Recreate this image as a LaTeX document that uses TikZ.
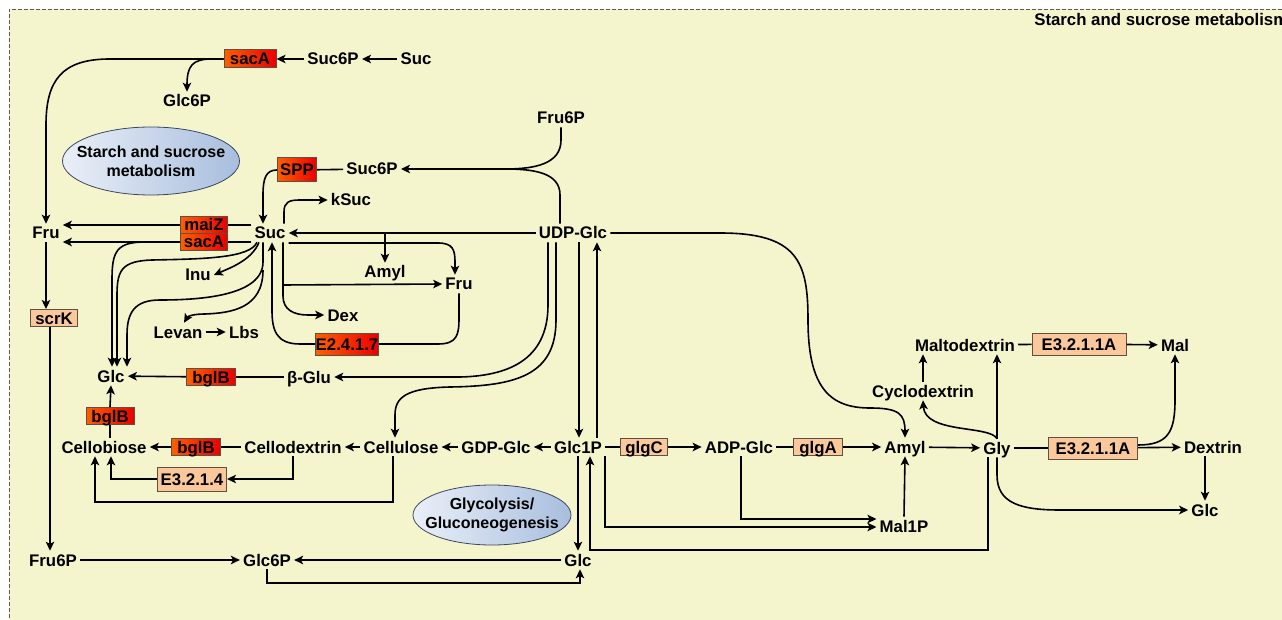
\documentclass[tikz,border=0pt]{standalone}
\usepackage{fontspec}
\setmainfont{Liberation Sans}
\usetikzlibrary{arrows.meta,shapes.geometric}
\definecolor{bgyel}{RGB}{245,245,205}
\definecolor{enzfill}{RGB}{250,200,155}
\definecolor{enzdraw}{RGB}{95,80,65}
\definecolor{redL}{RGB}{255,95,0}
\definecolor{redR}{RGB}{235,0,0}
\definecolor{ellL}{RGB}{234,239,247}
\definecolor{ellR}{RGB}{168,190,222}
\definecolor{elldraw}{RGB}{60,70,95}
\tikzset{
  lbl/.style={font=\fontsize{16.8}{19}\selectfont\bfseries, inner sep=2.5pt, text height=12pt, text depth=0pt},
  enz/.style={lbl, draw=enzdraw, line width=1pt, fill=enzfill, inner sep=0pt, minimum height=17pt},
  enzr/.style={enz, fill=none, left color=redL, right color=redR},
  ell/.style={ellipse, draw=elldraw, line width=0.8pt, left color=ellL, right color=ellR, inner sep=0pt},
  elltxt/.style={align=center, font=\fontsize{16}{19}\selectfont\bfseries, inner sep=0pt},
  arr/.style={-{Stealth[length=9pt,width=8.5pt,inset=2.2pt]}},
  every path/.style={line width=1.6pt}
}
\begin{document}
\begin{tikzpicture}[x=1pt,y=-1pt]
\useasboundingbox (0,0) rectangle (1282,620);
\fill[white] (0,0) rectangle (1282,620);
\fill[bgyel] (9,9) rectangle (1290,630);
\draw[line width=0.8pt, gray!70!black, dash pattern=on 4pt off 2pt] (9,630) -- (9,9) -- (1290,9);
\node[lbl, anchor=west] (title) at (1031,20) {Starch and sucrose metabolism};

% ellipses
\node[ell, minimum width=177pt, minimum height=68pt] (ell1) at (151,161) {};
\node[elltxt] (ell1t) at (ell1) {Starch and sucrose\\metabolism};
\node[ell, minimum width=158pt, minimum height=60pt] (ell2) at (492,515) {};
\node[elltxt] (ell2t) at (ell2) {Glycolysis/\\Gluconeogenesis};

% enzyme boxes
\node[enzr, minimum width=52pt, minimum height=18pt] (sacAt) at (250,59) {sacA};
\node[enzr, minimum width=39pt, minimum height=24pt] (SPP) at (297,170) {SPP};
\node[enzr, minimum width=47pt] (maiZ) at (204,225) {maiZ};
\node[enzr, minimum width=47pt] (sacAm) at (204,242) {sacA};
\node[enzr, minimum width=63pt, minimum height=22pt] (E2417) at (347,344) {E2.4.1.7};
\node[enz, minimum width=47pt] (scrK) at (54,318) {scrK};
\node[enzr, minimum width=49pt] (bglB1) at (211,377) {bglB};
\node[enzr, minimum width=48pt] (bglB2) at (110,416) {bglB};
\node[enzr, minimum width=49pt] (bglB3) at (196,447) {bglB};
\node[enz, minimum width=69pt, minimum height=24pt] (E3214) at (192,479) {E3.2.1.4};
\node[enz, minimum width=47pt] (glgC) at (644,447) {glgC};
\node[enz, minimum width=49pt] (glgA) at (818,447) {glgA};
\node[enz, minimum width=94pt, minimum height=22pt] (E3211a) at (1079,344) {E3.2.1.1A};
\node[enz, minimum width=89pt, minimum height=22pt] (E3211b) at (1093,448) {E3.2.1.1A};

% compounds
\node[lbl] (SucSixPt) at (333,59) {Suc6P};
\node[lbl] (SucT) at (416,59) {Suc};
\node[lbl] (GlcSixPt) at (187,101) {Glc6P};
\node[lbl] (FruSixPm) at (561,118) {Fru6P};
\node[lbl] (SucSixPm) at (372,169) {Suc6P};
\node[lbl] (kSuc) at (351,200) {kSuc};
\node[lbl] (FruL) at (46,233) {Fru};
\node[lbl] (Suc) at (270,233) {Suc};
\node[lbl] (UDPGlc) at (573,233) {UDP-Glc};
\node[lbl] (Inu) at (198,275) {Inu};
\node[lbl] (AmylU) at (385,272) {Amyl};
\node[lbl] (FruM) at (459,284) {Fru};
\node[lbl] (Dex) at (343,315) {Dex};
\node[lbl] (Levan) at (178,332) {Levan};
\node[lbl] (Lbs) at (244,332) {Lbs};
\node[lbl] (GlcL) at (111,376) {Glc};
\node[lbl] (bGlu) at (309,377) {β-Glu};
\node[lbl] (Cellobiose) at (104,447) {Cellobiose};
\node[lbl] (Cellodextrin) at (293,447) {Cellodextrin};
\node[lbl] (Cellulose) at (401,447) {Cellulose};
\node[lbl] (GDPGlc) at (496,447) {GDP-Glc};
\node[lbl] (GlcOneP) at (578,447) {Glc1P};
\node[lbl] (FruSixPb) at (53,560) {Fru6P};
\node[lbl] (GlcSixPb) at (267,560) {Glc6P};
\node[lbl] (GlcB) at (578,560) {Glc};
\node[lbl] (ADPGlc) at (739,447) {ADP-Glc};
\node[lbl] (AmylR) at (905,447) {Amyl};
\node[lbl] (Gly) at (997,448) {Gly};
\node[lbl] (Dextrin) at (1213,447) {Dextrin};
\node[lbl] (GlcR) at (1205,510) {Glc};
\node[lbl] (MalOneP) at (904,526) {Mal1P};
\node[lbl] (Cyclodextrin) at (923,391) {Cyclodextrin};
\node[lbl] (Maltodextrin) at (965,345) {Maltodextrin};
\node[lbl] (Mal) at (1175,345) {Mal};

% top
\draw[arr] (SucT) -- (SucSixPt);
\draw[arr] (SucSixPt) -- (sacAt);
\draw[arr] (sacAt.west) -- (110,59) .. controls (62,59) and (46,80) .. (46,125) -- (FruL.north);
\draw[arr] (sacAt.west) -- (212,59) .. controls (192,59) and (187,66) .. (GlcSixPt.north);

% Fru6P / UDP-Glc -> Suc6P
\coordinate (mrg) at (505,169);
\draw[arr] (FruSixPm.south) -- (561,140) .. controls (561,164) and (535,169) .. (mrg) -- (SucSixPm.east);
\draw ([xshift=-13pt]UDPGlc.north) -- (560,195) .. controls (560,173) and (535,169) .. (mrg);
\draw (SucSixPm) -- (SPP);
\draw[arr] (SPP.west) .. controls (266,170) and (263,178) .. (263,195) -- ([xshift=-7pt]Suc.north);
\draw[arr] ([xshift=14pt]Suc.north) -- (284,212) .. controls (284,202) and (289,200) .. (300,200) -- (kSuc.west);

% Suc -> Fru (left)
\draw ([yshift=8pt]Suc.west) -- (maiZ.east);
\draw[arr] (maiZ.west) -- (FruL.east |- maiZ);
\draw ([yshift=-9pt]Suc.west) -- (sacAm.east);
\draw[arr] (sacAm.west) -- (FruL.east |- sacAm);

% UDP-Glc -> Suc, branches
\draw[arr] (UDPGlc.west) -- (Suc.east);
\draw[arr] (AmylU.north |- UDPGlc) -- (AmylU.north);
\draw[arr] ([yshift=-10pt]Suc.east) -- (438,243) .. controls (453,243) and (455,250) .. (455,262) -- ([xshift=-4pt]FruM.north);

% Suc -> Glc curves and others
\draw[arr] (sacAm.west) -- (145,242) .. controls (116,242) and (112,252) .. (112,280) -- ([xshift=1pt]GlcL.north);
\draw[arr] ([xshift=-13pt]Suc.south) .. controls (250,258) and (205,259) .. (152,260) .. controls (122,261) and (117,270) .. (117,295) -- ([xshift=6pt]GlcL.north);
\draw[arr] ([xshift=-7pt]Suc.south) -- (263,262) .. controls (263,296) and (200,300) .. (160,300) .. controls (135,300) and (127,312) .. (127,335) -- ([xshift=16pt]GlcL.north);
\draw[arr] ([xshift=-11pt]Suc.south) .. controls (252,260) and (230,268) .. (Inu.east);
\draw[arr] (263,270) .. controls (263,308) and (232,313) .. (205,314) .. controls (194,314) and (188,316) .. ([xshift=6pt]Levan.north);
\draw[arr] (Levan) -- (Lbs);
\draw[arr] (E2417.west) -- (300,344) .. controls (276,344) and (272,330) .. (272,310) -- ([xshift=2pt]Suc.south);
\draw (E2417.east) -- (438,344) .. controls (457,344) and (459,335) .. (459,318) -- (FruM.south);
\coordinate (sb) at (283,285);
\draw[arr] ([xshift=13pt]Suc.south) -- (283,296) .. controls (283,310) and (294,315) .. (308,315) -- (Dex.west);
\draw[arr] (sb) -- (FruM.west);

% UDP-Glc long curves
\draw[arr] (UDPGlc.east) -- (720,233) .. controls (798,233) and (808,262) .. (808,320) .. controls (808,388) and (830,408) .. (870,408) .. controls (899,408) and (905,414) .. (AmylR.north);
\draw[arr] ([xshift=-25pt]UDPGlc.south) -- (548,305) .. controls (548,362) and (505,376) .. (460,377) -- (bGlu.east);
\draw[arr] ([xshift=-17pt]UDPGlc.south) -- (556,320) .. controls (556,376) and (515,386) .. (450,387) .. controls (405,388) and (395,398) .. (395,415) -- ([xshift=-6pt]Cellulose.north);
\draw[arr] ([xshift=6pt]UDPGlc.south) -- ([xshift=1pt]GlcOneP.north);
\draw[arr] ([xshift=19pt]GlcOneP.north) -- ([xshift=24pt]UDPGlc.south);

% cellulose row
\draw[arr] (GlcOneP) -- (GDPGlc);
\draw[arr] (GDPGlc) -- (Cellulose);
\draw[arr] (Cellulose) -- (Cellodextrin);
\draw (Cellodextrin) -- (bglB3);
\draw[arr] (bglB3) -- (Cellobiose);
\draw[arr] (Cellodextrin.south) |- (E3214.east);
\draw[arr] (E3214.west) -| ([xshift=7pt]Cellobiose.south);
\draw[arr] ([xshift=-8pt]Cellulose.south) -- (393,502) -| ([xshift=-9pt]Cellobiose.south);
\draw ([xshift=6pt]Cellobiose.north) -- (bglB2.south);
\draw[arr] (bglB2.north) -- (GlcL.south);
\draw (bGlu) -- (bglB1);
\draw[arr] (bglB1) -- (GlcL);

% left column and bottom
\draw[arr] (FruL.south) -- (FruL.south |- scrK.north);
\draw[arr] ([xshift=-4pt]scrK.south) -- ([xshift=-3pt]FruSixPb.north);
\draw[arr] (FruSixPb) -- (GlcSixPb);
\draw[arr] (GlcB) -- (GlcSixPb);
\draw[arr] (GlcSixPb.south) -- (267,583) -| ([xshift=2pt]GlcB.south);
\draw[arr] (GlcOneP.south) -- (GlcB.north);
\draw[arr] ([xshift=-9pt]Gly.south) -- (988,550) -| ([xshift=12pt]GlcOneP.south);
\draw[arr] ([xshift=27pt]GlcOneP.south) |- ([yshift=-1pt]MalOneP.west);
\draw[arr] ([xshift=2pt]ADPGlc.south) |- ([yshift=7pt]MalOneP.west);
\draw[arr] (MalOneP.north) -- (AmylR.south);

% glycogen row
\draw (GlcOneP) -- (glgC);
\draw[arr] (glgC) -- (ADPGlc);
\draw (ADPGlc) -- (glgA);
\draw[arr] (glgA) -- (AmylR);
\draw[arr] (AmylR) -- (Gly);
\draw[arr] (Gly.north) .. controls (990,425) and (925,434) .. (Cyclodextrin.south);
\draw[arr] (Cyclodextrin.north) -- (Cyclodextrin.north |- Maltodextrin.south);
\draw[arr] (Gly.north) -- (Gly.north |- Maltodextrin.south);
\draw (Maltodextrin) -- (E3211a);
\draw[arr] (E3211a) -- (Mal);
\draw (Gly) -- (E3211b);
\draw[arr] (E3211b) -- (Dextrin);
\draw[arr] ([yshift=3pt]E3211b.east) .. controls (1168,445) and (1175,432) .. (1175,400) -- (Mal.south);
\draw[arr] ([xshift=-8pt]Dextrin.south) -- (GlcR.north);
\draw[arr] (Gly.south) -- (997,475) .. controls (997,503) and (1020,510) .. (1060,510) -- (GlcR.west);
\end{tikzpicture}
\end{document}
